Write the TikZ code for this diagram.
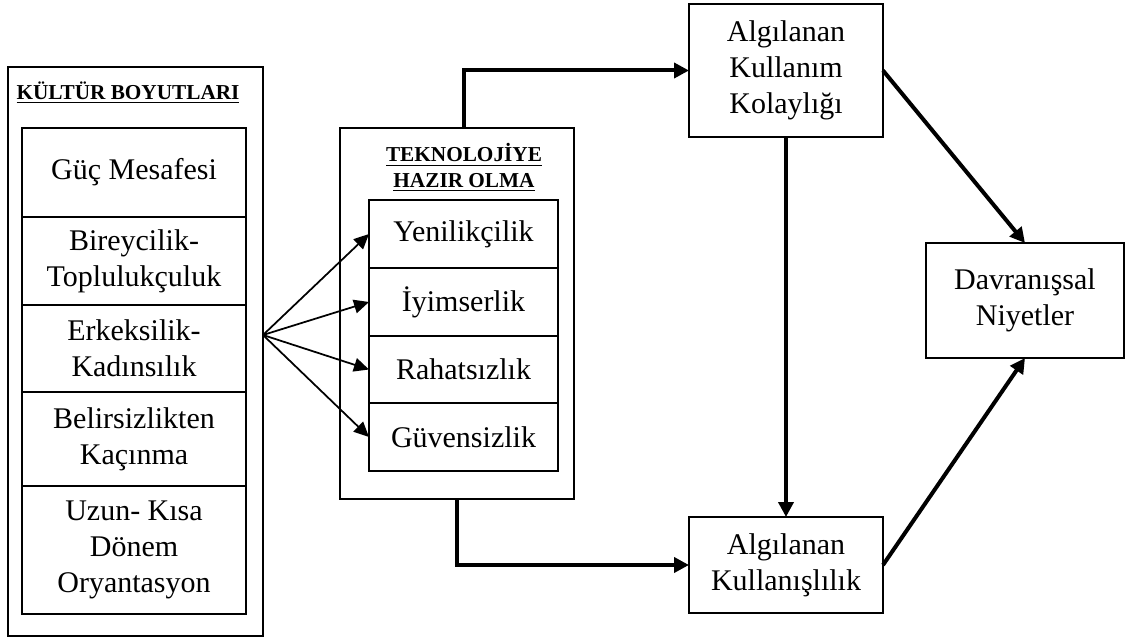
\documentclass[tikz,border=0pt]{standalone}
\usepackage{fontspec}
\setmainfont{Liberation Serif}
\usetikzlibrary{positioning}
\usetikzlibrary{arrows.meta}

\tikzset{
  block/.style={draw, line width=1.1pt, inner sep=0pt, outer sep=0pt,
    align=center, font=\fontsize{12}{14.4}\selectfont},
  frame/.style={draw, line width=1.1pt, inner sep=0pt, outer sep=0pt},
  heading/.style={align=center, inner sep=0pt,
    font=\bfseries\fontsize{8.5}{10}\selectfont},
  thinarrow/.style={line width=0.7pt, -{Triangle[length=6pt,width=5.5pt]}},
  thickarrow/.style={line width=1.6pt, -{Triangle[length=6pt,width=6pt]}}
}

\begin{document}
\begin{tikzpicture}[x=0.4pt,y=-0.4pt]
\useasboundingbox (0,0) rectangle (1134,639);

% Culture dimensions
\node[frame, minimum width=102pt, minimum height=227.6pt] (kultur) at (135.5,351.5) {};
\node[heading] (kulturtitle) at (128,93) {\underline{KÜLTÜR BOYUTLARI}};
\node[block, minimum width=89.6pt, minimum height=35.6pt] (guc) at (134,172.5) {Güç Mesafesi};
\node[block, minimum width=89.6pt, minimum height=35.2pt,
    below=0pt of guc
] (bireycilik) {Bireycilik-\\Toplulukçuluk};
\node[block, minimum width=89.6pt, minimum height=34.8pt,
    below=0pt of bireycilik
] (erkeksilik) {Erkeksilik-\\Kadınsılık};
\node[block, minimum width=89.6pt, minimum height=37.6pt,
    below=0pt of erkeksilik
] (belirsizlik) {Belirsizlikten\\Kaçınma};
\node[block, minimum width=89.6pt, minimum height=51.2pt,
    below=0pt of belirsizlik
] (uzun) {Uzun- Kısa\\Dönem\\Oryantasyon};

% Technology readiness
\node[frame, minimum width=93.6pt, minimum height=148.4pt] (hazir) at (457,313.5) {};
\node[heading] (hazirtitle) at (464,168) {\underline{TEKNOLOJİYE}\\\underline{HAZIR OLMA}};
\node[block, minimum width=75.6pt, minimum height=27.2pt] (yenilik) at (463.5,234) {Yenilikçilik};
\node[block, minimum width=75.6pt, minimum height=27.2pt,
    below=0pt of yenilik
] (iyimserlik) {İyimserlik};
\node[block, minimum width=75.6pt, minimum height=26.8pt,
    below=0pt of iyimserlik
] (rahatsizlik) {Rahatsızlık};
\node[block, minimum width=75.6pt, minimum height=27.2pt,
    below=0pt of rahatsizlik
] (guvensizlik) {Güvensizlik};

% TAM part
\node[block, minimum width=77.6pt, minimum height=53.2pt] (kolaylik) at (786,70.5) {Algılanan\\Kullanım\\Kolaylığı};
\node[block, minimum width=77.6pt, minimum height=38.4pt] (kullanislilik) at (786,565) {Algılanan\\Kullanışlılık};
\node[block, minimum width=79.2pt, minimum height=46pt] (niyet) at (1025,300.5) {Davranışsal\\Niyetler};

% Arrows
\coordinate (fan) at (263,335);
\foreach \t in {yenilik,iyimserlik,rahatsizlik,guvensizlik}
    \draw[thinarrow] (fan) -- (\t.west);

\draw[thickarrow] (hazir.north -| yenilik) |- (kolaylik.west);
\draw[thickarrow] (hazir.south) |- (kullanislilik.west);
\draw[thickarrow] (kolaylik.south) -- (kullanislilik.north);
\draw[thickarrow] (kolaylik.east) -- (niyet.north);
\draw[thickarrow] (kullanislilik.east) -- (niyet.south);

\end{tikzpicture}
\end{document}
